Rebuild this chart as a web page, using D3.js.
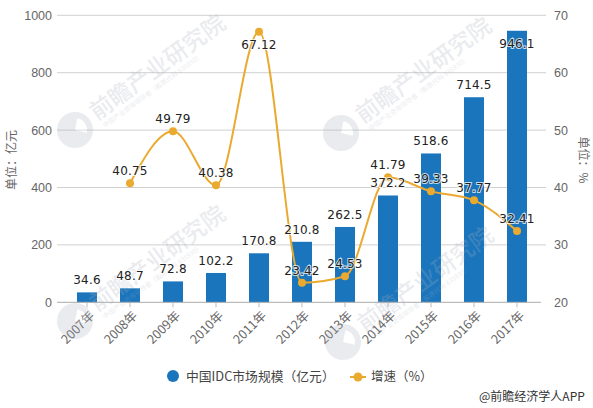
<!DOCTYPE html>
<html><head><meta charset="utf-8">
<script src="https://cdnjs.cloudflare.com/ajax/libs/d3/7.8.5/d3.min.js"></script>
<style>html,body{margin:0;padding:0;background:#fff}svg{display:block}</style>
</head><body><svg id="c" width="593" height="408"></svg>
<script>
const years=["2007年","2008年","2009年","2010年","2011年","2012年","2013年","2014年","2015年","2016年","2017年"];
const marketSize=[34.6,48.7,72.8,102.2,170.8,210.8,262.5,372.2,518.6,714.5,946.1];
const growthYears=years.slice(1);
const growth=[40.75,49.79,40.38,67.12,23.42,24.53,41.79,39.33,37.77,32.41];
const leftTicks=[0,200,400,600,800,1000];
const rightTicks=[20,30,40,50,60,70];
const sans="'Noto Sans CJK SC','Liberation Sans',sans-serif";
const num="'DejaVu Sans',sans-serif";
const svg=d3.select("#c");
const x=d3.scaleBand().domain(years).range([65.5,538.5]);
const yL=d3.scaleLinear().domain([0,1000]).range([302.3,15.3]);
const yR=d3.scaleLinear().domain([20,70]).range([302.3,15.3]);
const cx=d=>x(d)+x.bandwidth()/2;
const GRID="#d0d0d0",TXT="#666",BLUE="#1a75bc",GOLD="#eaa92f";

// gridlines
svg.append("g").selectAll("line").data(leftTicks.filter(d=>d>0)).join("line")
  .attr("x1",57).attr("x2",546).attr("y1",yL).attr("y2",yL).attr("stroke",GRID).attr("stroke-width",1);

// bars
svg.append("g").selectAll("rect").data(marketSize).join("rect")
  .attr("x",(d,i)=>cx(years[i])-10).attr("width",20)
  .attr("y",d=>yL(d)).attr("height",d=>yL(0)-yL(d)).attr("fill",BLUE);

// axis line and ticks
svg.append("line").attr("x1",57).attr("x2",541).attr("y1",yL(0)).attr("y2",yL(0)).attr("stroke","#aaa");
svg.append("g").selectAll("line").data(years).join("line")
  .attr("x1",cx).attr("x2",cx).attr("y1",yL(0)).attr("y2",yL(0)+5).attr("stroke","#bbb");

// y axes
const la=svg.append("g").attr("transform","translate(52,0)").call(d3.axisLeft(yL).tickValues(leftTicks).tickFormat(d3.format("d")).tickSize(0).tickPadding(0));
const ra=svg.append("g").attr("transform","translate(554,0)").call(d3.axisRight(yR).tickValues(rightTicks).tickFormat(d3.format("d")).tickSize(0).tickPadding(0));
[la,ra].forEach(g=>{g.select(".domain").remove();g.selectAll("text").attr("fill",TXT).style("font-family","'Liberation Sans',sans-serif").style("font-size","12.5px");});

// x labels
svg.append("g").selectAll("text").data(years).join("text")
  .attr("transform",d=>`translate(${cx(d)+5},${yL(0)+11}) rotate(-45)`)
  .attr("text-anchor","end").attr("dy","0.35em").attr("fill",TXT)
  .style("font-family",sans).style("font-size","12.5px").text(d=>d);

// axis titles
svg.append("text").attr("transform","translate(12,160) rotate(-90)").attr("text-anchor","middle").attr("dy","0.35em")
  .attr("fill",TXT).style("font-family",sans).style("font-size","12px").text("单位：亿元");
svg.append("text").attr("transform","translate(583,160) rotate(90)").attr("text-anchor","middle").attr("dy","0.35em")
  .attr("fill",TXT).style("font-family",sans).style("font-size","12px").text("单位：%");

// line
const line=d3.line().x((d,i)=>cx(growthYears[i])).y(d=>yR(d)).curve(d3.curveMonotoneX);
svg.append("path").datum(growth).attr("d",line).attr("fill","none").attr("stroke",GOLD).attr("stroke-width",2);
svg.append("g").selectAll("circle").data(growth).join("circle")
  .attr("cx",(d,i)=>cx(growthYears[i])).attr("cy",d=>yR(d)).attr("r",4).attr("fill",GOLD);

// watermarks
const marks=[[75,130],[75,321],[341,133],[343,342]];
const wm=svg.append("g").attr("pointer-events","none");
marks.forEach(([mx,my])=>{
  const g=wm.append("g").attr("transform",`translate(${mx},${my})`).attr("opacity",0.24);
  g.append("circle").attr("r",18).attr("fill","#a9b0bd");
  g.append("path").attr("d",d3.arc()({innerRadius:0,outerRadius:12,startAngle:0.2,endAngle:1.8})).attr("fill","#fff");
  g.append("text").attr("transform","translate(22,-9) rotate(-36)").attr("fill","#a9b0bd")
    .style("font-family",sans).style("font-size","23px").style("font-weight","500").text("前瞻产业研究院");
  g.append("text").attr("transform","translate(30,-2) rotate(-36)").attr("fill","#a9b0bd")
    .style("font-family",sans).style("font-size","6.5px").text("中国产业咨询领导者（股票代码 835930）");
});

// data labels
function labels(data,keys,scale,above){
  svg.append("g").selectAll("text").data(data).join("text")
    .attr("x",(d,i)=>cx(keys[i])).attr("y",d=>scale(d)+(above(d)?-8:17))
    .attr("text-anchor","middle").attr("fill","#222")
    .attr("stroke","#fff").attr("stroke-width",2).attr("stroke-opacity",0.75).attr("paint-order","stroke")
    .style("font-family",num).style("font-size","12px").style("font-weight","500").style("letter-spacing","0.2px")
    .text(d=>d);
}
labels(marketSize,years,yL,d=>d<900);
labels(growth,growthYears,yR,d=>d<60);

// legend
svg.append("circle").attr("cx",173).attr("cy",376).attr("r",6).attr("fill",BLUE);
svg.append("text").attr("x",186).attr("y",381).attr("fill","#444").style("font-family",sans).style("font-size","12.8px").text("中国IDC市场规模（亿元）");
svg.append("line").attr("x1",350).attr("x2",366).attr("y1",377).attr("y2",377).attr("stroke",GOLD).attr("stroke-width",2);
svg.append("circle").attr("cx",358).attr("cy",377).attr("r",4.5).attr("fill",GOLD);
svg.append("text").attr("x",371).attr("y",381).attr("fill","#444").style("font-family",sans).style("font-size","12.5px").text("增速（%）");
svg.append("text").attr("x",479).attr("y",401).attr("fill","#333").style("font-family",sans).style("font-size","12px").text("@前瞻经济学人APP");
</script></body></html>
